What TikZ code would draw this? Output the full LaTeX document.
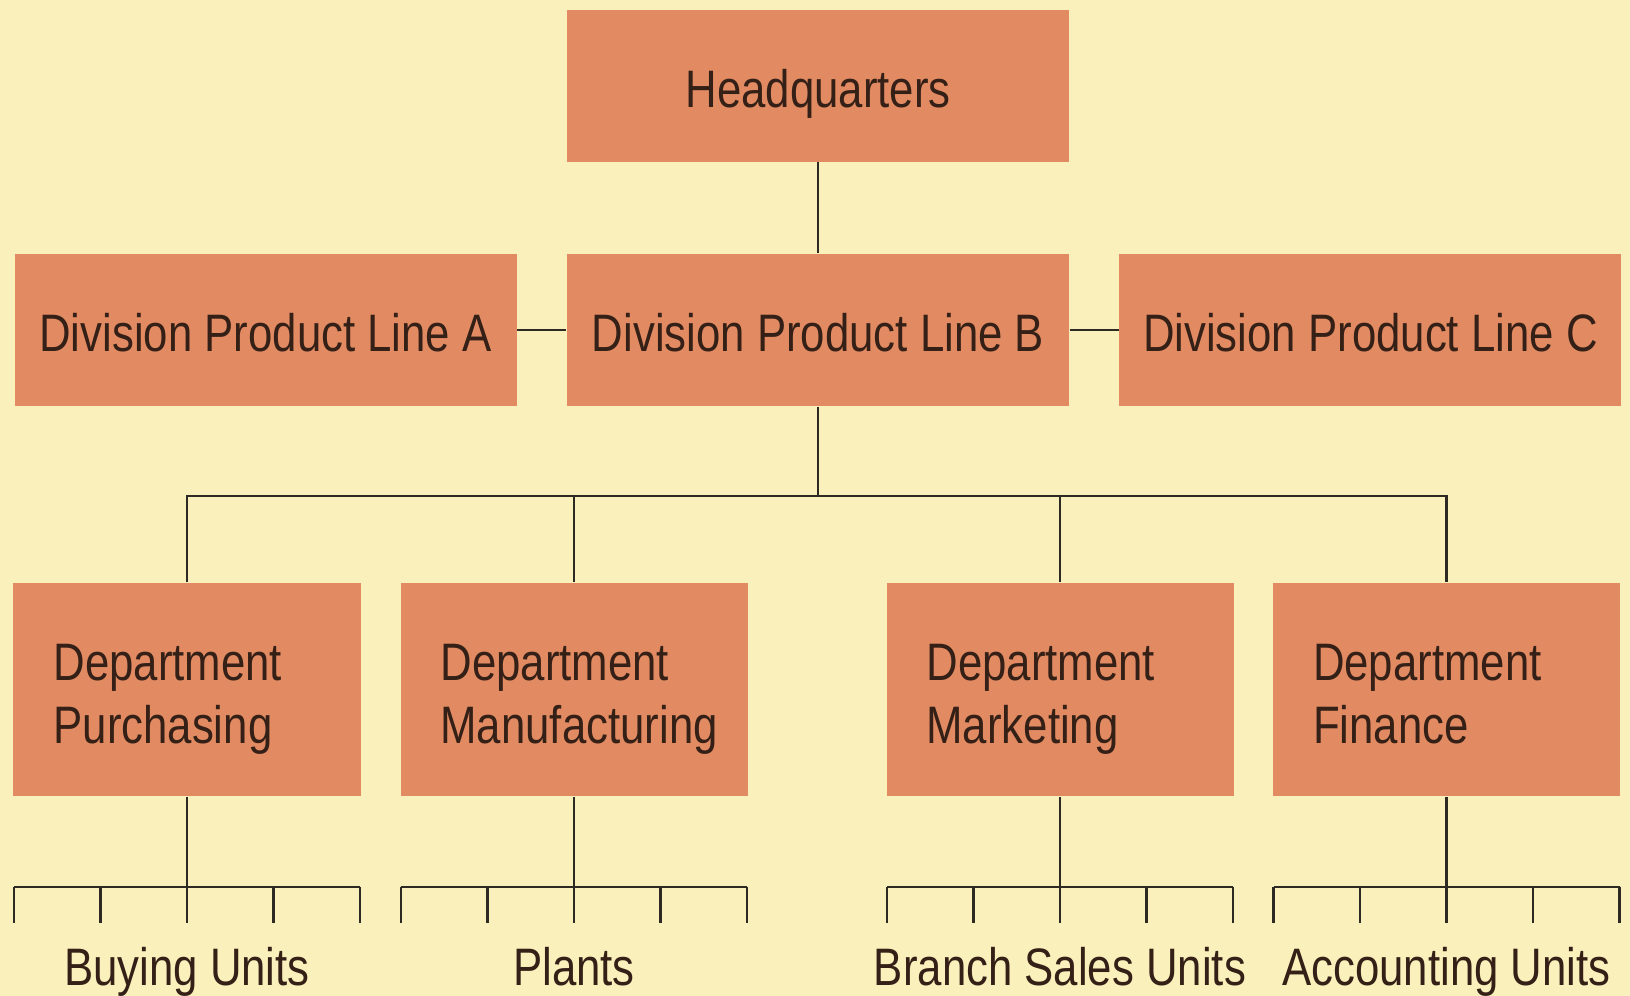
\documentclass[tikz,border=0pt]{standalone}
\usepackage{fontspec}
\setmainfont{Liberation Sans}[FakeStretch=0.83]
\usetikzlibrary{calc,positioning}
\definecolor{bgyellow}{RGB}{249,240,187}
\definecolor{boxorange}{RGB}{226,139,99}
\definecolor{textbrown}{RGB}{52,32,22}
\definecolor{linegray}{RGB}{45,42,35}

\begin{document}
\begin{tikzpicture}[
    box/.style   = {fill = boxorange, text = textbrown, inner sep = 0pt,
                    minimum width = 5.02cm, minimum height = 1.52cm,
                    text height = 0.44cm, text depth = 0cm,
                    font = \fontsize{15}{18}\selectfont},
    dept/.style  = {box, minimum width = 3.47cm, minimum height = 2.13cm,
                    text width = 2.67cm, align = left,
                    text height = 0.5cm, text depth = 0.68cm},
    units/.style = {text = textbrown, anchor = base, font = \fontsize{15}{18}\selectfont},
    line/.style  = {draw = linegray, line width = 0.6pt},
  ]

	% Hintergrund
	\useasboundingbox (0,0) rectangle (16.30,-9.96);
	\fill[bgyellow] (0,0) rectangle (16.30,-9.96);

	% Divisionen
	\node[box] (divB) at (8.18,-3.30) {Division Product Line B};
	\node[box, left = 0.49cm of divB] (divA) {Division Product Line A};
	\node[box, right = 0.49cm of divB] (divC) {Division Product Line C};
	\node[box, above = 0.91cm of divB] (hq) {Headquarters};

	% Abteilungen
	\node[dept] (purch) at (1.87,-6.895)  {Department\\Purchasing};
	\node[dept] (manu)  at (5.74,-6.895)  {Department\\Manufacturing};
	\node[dept] (mark)  at (10.60,-6.895) {Department\\Marketing};
	\node[dept] (fin)   at (14.465,-6.895) {Department\\Finance};

	% Verbindungen oben
	\draw[line] (hq) -- (divB);
	\draw[line] (divA) -- (divB);
	\draw[line] (divB) -- (divC);

	% Sammelschiene zu den Abteilungen
	\coordinate (bus) at ($ (divB.south) + (0,-0.89) $);
	\draw[line] (divB) -- (bus);
	\draw[line] (purch.north) |- (bus) -| (fin.north);
	\draw[line] (manu.north) -- (manu.north |- bus);
	\draw[line] (mark.north) -- (mark.north |- bus);

	% Kämme unter den Abteilungen
	\coordinate (purchbar) at ($ (purch.south) + (0,-0.90) $);
	\coordinate (manubar)  at ($ (manu.south) + (0,-0.90) $);
	\coordinate (markbar)  at ($ (mark.south) + (0,-0.90) $);
	\coordinate (finbar)   at ($ (fin.south) + (0,-0.90) $);

	\draw[line] (purch) -- (purchbar);
	\draw[line] (purchbar) ++(-1.73,0) -- ++(3.46,0);
	\foreach \i in {-2,...,2}
		\draw[line] (purchbar) ++(\i*0.865,0) -- ++(0,-0.36);

	\draw[line] (manu) -- (manubar);
	\draw[line] (manubar) ++(-1.73,0) -- ++(3.46,0);
	\foreach \i in {-2,...,2}
		\draw[line] (manubar) ++(\i*0.865,0) -- ++(0,-0.36);

	\draw[line] (mark) -- (markbar);
	\draw[line] (markbar) ++(-1.73,0) -- ++(3.46,0);
	\foreach \i in {-2,...,2}
		\draw[line] (markbar) ++(\i*0.865,0) -- ++(0,-0.36);

	\draw[line] (fin) -- (finbar);
	\draw[line] (finbar) ++(-1.73,0) -- ++(3.46,0);
	\foreach \i in {-2,...,2}
		\draw[line] (finbar) ++(\i*0.865,0) -- ++(0,-0.36);

	% Einheiten
	\node[units] (buying)   at ($ (purchbar) + (0,-0.99) $) {Buying Units};
	\node[units] (plants)   at ($ (manubar) + (0,-0.99) $)  {Plants};
	\node[units] (branch)   at ($ (markbar) + (0,-0.99) $)  {Branch Sales Units};
	\node[units] (account)  at ($ (finbar) + (0,-0.99) $)   {Accounting Units};

\end{tikzpicture}
\end{document}
